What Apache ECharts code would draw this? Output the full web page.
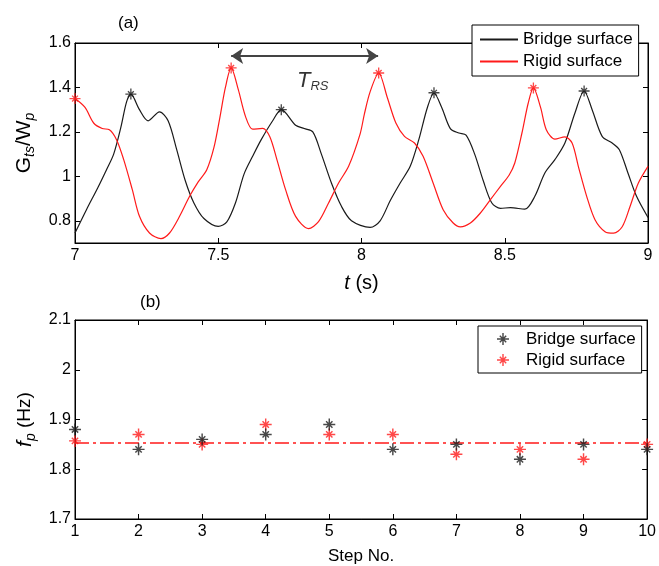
<!DOCTYPE html>
<html>
<head>
<meta charset="utf-8">
<script src="https://cdn.jsdelivr.net/npm/echarts@6/dist/echarts.min.js"></script>
<style>
html,body{margin:0;padding:0;background:#fff;}
#myChart{width:659px;height:566px;}
</style>
</head>
<body>
<div id="myChart"></div>
<script>
// (a) time histories
var bridgeT = [7.00,7.04,7.08,7.11,7.135,7.16,7.18,7.195,7.225,7.255,7.295,7.325,7.355,7.385,7.415,7.45,7.50,7.53,7.56,7.59,7.62,7.65,7.69,7.72,7.77,7.80,7.83,7.86,7.895,7.93,7.965,8.03,8.065,8.10,8.135,8.17,8.20,8.23,8.253,8.28,8.31,8.34,8.365,8.395,8.425,8.455,8.485,8.52,8.57,8.605,8.64,8.675,8.71,8.745,8.777,8.805,8.84,8.875,8.90,8.93,8.96,9.00];
var bridgeG = [0.745,0.85,0.95,1.03,1.10,1.22,1.335,1.37,1.30,1.25,1.29,1.25,1.12,0.98,0.88,0.81,0.775,0.795,0.88,1.01,1.09,1.165,1.25,1.30,1.23,1.215,1.20,1.10,0.97,0.865,0.80,0.77,0.80,0.89,0.97,1.045,1.165,1.31,1.375,1.31,1.215,1.195,1.185,1.10,0.98,0.88,0.856,0.859,0.852,0.91,1.015,1.075,1.15,1.285,1.384,1.30,1.18,1.15,1.12,1.015,0.91,0.815];
var rigidT = [7.00,7.035,7.065,7.095,7.12,7.145,7.17,7.20,7.225,7.26,7.30,7.33,7.365,7.40,7.43,7.46,7.485,7.505,7.525,7.545,7.57,7.595,7.62,7.655,7.68,7.705,7.735,7.77,7.815,7.85,7.885,7.92,7.955,7.995,8.01,8.03,8.06,8.09,8.12,8.15,8.185,8.215,8.25,8.285,8.32,8.345,8.38,8.415,8.45,8.485,8.515,8.535,8.56,8.582,8.60,8.625,8.645,8.675,8.71,8.735,8.757,8.786,8.815,8.85,8.88,8.91,8.937,8.966,9.00];
var rigidG = [1.35,1.31,1.24,1.215,1.21,1.165,1.075,0.94,0.82,0.745,0.72,0.745,0.82,0.91,0.975,1.03,1.13,1.26,1.40,1.488,1.39,1.27,1.212,1.216,1.178,1.074,0.94,0.82,0.765,0.796,0.88,0.97,1.045,1.19,1.28,1.38,1.465,1.355,1.24,1.18,1.15,1.09,0.97,0.85,0.79,0.773,0.79,0.835,0.895,0.955,1.005,1.06,1.195,1.33,1.398,1.31,1.21,1.167,1.178,1.15,1.044,0.91,0.805,0.751,0.744,0.773,0.863,0.969,1.045];
var bridgePeakT = [7.195,7.72,8.253,8.777];
var bridgePeakG = [1.37,1.30,1.376,1.384];
var rigidPeakT = [7.00,7.545,8.06,8.60];
var rigidPeakG = [1.35,1.488,1.465,1.398];
var gTicks = [0.8,1,1.2,1.4,1.6];
var arrowT = [7.545,8.058];
var arrowG = 1.541;
var trsLabelPos = [7.83,1.43];

// (b) peak frequency per step
var steps = [1,2,3,4,5,6,7,8,9,10];
var bridgeFp = [1.88,1.84,1.86,1.87,1.89,1.84,1.85,1.82,1.85,1.84];
var rigidFp = [1.857,1.87,1.85,1.89,1.87,1.87,1.83,1.84,1.82,1.85];
var rigidMean = 1.853;

var font = 'Liberation Sans';
var black = '#1a1a1a', red = '#ff1a1a';
// asterisk marker (+ and x)
var star = 'path://M-0.12,-1L0.12,-1L0.12,1L-0.12,1Z' +
  'M-1,-0.12L1,-0.12L1,0.12L-1,0.12Z' +
  'M-0.445,-0.615L0.615,0.445L0.445,0.615L-0.615,-0.445Z' +
  'M-0.615,0.445L0.445,-0.615L0.615,-0.445L-0.445,0.615Z';

function zip(a, b){
  var out = [];
  for (var i = 0; i < a.length; i++) out.push([a[i], b[i]]);
  return out;
}
function fill(v, n){
  var out = [];
  for (var i = 0; i < n.length; i++) out.push([n[i], v]);
  return out;
}

var myChart = echarts.init(document.getElementById('myChart'));

var tickStyle = {show:true, inside:true, length:5, lineStyle:{color:'#000', width:1}};
var lineStyleAxis = {show:true, onZero:false, lineStyle:{color:'#000', width:1}};

var option = {
  animation:false,
  backgroundColor:'#fff',
  title:[
    {text:'(a)', left:118, top:15, padding:0, textStyle:{fontSize:17, fontWeight:'normal', color:'#000', fontFamily:font}},
    {text:'(b)', left:140, top:294, padding:0, textStyle:{fontSize:17, fontWeight:'normal', color:'#000', fontFamily:font}}
  ],
  legend:[
    {
      left:472, top:25, orient:'vertical',
      data:['Bridge surface','Rigid surface'],
      // line only, hide the marker legend adds for line series
      itemStyle:{opacity:0},
      backgroundColor:'#fff', borderColor:'#000', borderWidth:1,
      padding:[6,6,6,7], itemGap:5, itemWidth:38, itemHeight:18,
      textStyle:{fontSize:17, color:'#000', fontFamily:font}
    },
    {
      left:478, top:326, orient:'vertical',
      data:['Bridge surface (b)','Rigid surface (b)'],
      formatter:function(name){ return name.replace(' (b)',''); },
      backgroundColor:'#fff', borderColor:'#000', borderWidth:1,
      padding:[4,6,4,19], itemGap:3, itemWidth:30, itemHeight:12,
      textStyle:{fontSize:17, color:'#000', fontFamily:font, lineHeight:18, padding:[0,0,0,3]}
    }
  ],
  grid:[
    {left:75, top:43, width:573, height:200, show:true, borderColor:'#000', borderWidth:1},
    {left:75, top:320, width:573, height:200, show:true, borderColor:'#000', borderWidth:1}
  ],
  xAxis:[
    {
      type:'value', gridIndex:0, min:7, max:9, interval:0.5,
      axisLine:lineStyleAxis, axisTick:tickStyle, splitLine:{show:false},
      axisLabel:{color:'#000', fontSize:16, fontFamily:font, margin:5},
      name:'{i|t} (s)', nameLocation:'middle', nameGap:30,
      nameTextStyle:{color:'#000', fontSize:20, fontFamily:font, rich:{i:{fontSize:20, fontStyle:'italic', fontFamily:font, color:'#000'}}}
    },
    {
      type:'value', gridIndex:0, position:'top', min:7, max:9, interval:0.5,
      axisLine:lineStyleAxis, axisTick:tickStyle, splitLine:{show:false}, axisLabel:{show:false}
    },
    {
      type:'value', gridIndex:1, min:1, max:10, interval:1,
      axisLine:lineStyleAxis, axisTick:tickStyle, splitLine:{show:false},
      axisLabel:{color:'#000', fontSize:16, fontFamily:font, margin:5},
      name:'Step No.', nameLocation:'middle', nameGap:29,
      nameTextStyle:{color:'#000', fontSize:17, fontFamily:font}
    },
    {
      type:'value', gridIndex:1, position:'top', min:1, max:10, interval:1,
      axisLine:lineStyleAxis, axisTick:tickStyle, splitLine:{show:false}, axisLabel:{show:false}
    }
  ],
  yAxis:[
    {
      type:'value', gridIndex:0, min:0.7, max:1.6,
      axisLine:lineStyleAxis, splitLine:{show:false},
      axisTick:{show:true, inside:true, length:5, customValues:gTicks, lineStyle:{color:'#000'}},
      axisLabel:{color:'#000', fontSize:16, fontFamily:font, margin:4, customValues:gTicks},
      name:'{i|G}{s|ts}{i|/W}{s|p}', nameLocation:'middle', nameGap:38,
      nameTextStyle:{color:'#000', fontFamily:font, rich:{
        i:{fontSize:21, fontFamily:font, color:'#000', lineHeight:26},
        s:{fontSize:14, fontStyle:'italic', fontFamily:font, color:'#000', verticalAlign:'bottom', lineHeight:14}
      }}
    },
    {
      type:'value', gridIndex:0, position:'right', min:0.7, max:1.6,
      axisLine:lineStyleAxis, splitLine:{show:false},
      axisTick:{show:true, inside:true, length:5, customValues:gTicks, lineStyle:{color:'#000'}},
      axisLabel:{show:false}
    },
    {
      type:'value', gridIndex:1, min:1.7, max:2.1, interval:0.1,
      axisLine:lineStyleAxis, axisTick:tickStyle, splitLine:{show:false},
      axisLabel:{color:'#000', fontSize:16, fontFamily:font, margin:4},
      name:'{i|f}{s|p} (Hz)', nameLocation:'middle', nameGap:34,
      nameTextStyle:{color:'#000', fontSize:19, fontFamily:font, lineHeight:26, rich:{
        i:{fontSize:21, fontStyle:'italic', fontFamily:font, color:'#000', lineHeight:26},
        s:{fontSize:14, fontStyle:'italic', fontFamily:font, color:'#000', verticalAlign:'bottom', lineHeight:14}
      }}
    },
    {
      type:'value', gridIndex:1, position:'right', min:1.7, max:2.1, interval:0.1,
      axisLine:lineStyleAxis, axisTick:tickStyle, splitLine:{show:false}, axisLabel:{show:false}
    }
  ],
  series:[
    {
      name:'Bridge surface', type:'line', xAxisIndex:0, yAxisIndex:0,
      data:zip(bridgeT, bridgeG), symbol:'none', smooth:0.3,
      lineStyle:{color:black, width:1.2}, itemStyle:{color:black}
    },
    {
      name:'Rigid surface', type:'line', xAxisIndex:0, yAxisIndex:0,
      data:zip(rigidT, rigidG), symbol:'none', smooth:0.3,
      lineStyle:{color:red, width:1.2}, itemStyle:{color:red}
    },
    {
      name:'bridgePeaks', type:'scatter', xAxisIndex:0, yAxisIndex:0,
      data:zip(bridgePeakT, bridgePeakG), symbol:star, symbolSize:11,
      itemStyle:{color:black}, z:5
    },
    {
      name:'rigidPeaks', type:'scatter', xAxisIndex:0, yAxisIndex:0,
      data:zip(rigidPeakT, rigidPeakG), symbol:star, symbolSize:11,
      itemStyle:{color:red}, z:5
    },
    {
      name:'T_RS', type:'scatter', xAxisIndex:0, yAxisIndex:0,
      data:[trsLabelPos], symbolSize:0, silent:true,
      itemStyle:{color:'transparent'},
      label:{show:true, position:'inside', formatter:'{t|T}{s|RS}', rich:{
        t:{fontSize:22, fontStyle:'italic', fontFamily:font, color:'#000', lineHeight:24},
        s:{fontSize:13, fontStyle:'italic', fontFamily:font, color:'#000', verticalAlign:'bottom', lineHeight:12}
      }},
      markLine:{
        silent:true, symbol:['arrow','arrow'], symbolSize:12, label:{show:false},
        lineStyle:{color:'#444', width:2, type:'solid'},
        data:[[{coord:[arrowT[0], arrowG]}, {coord:[arrowT[1], arrowG]}]]
      }
    },
    {
      name:'Bridge surface (b)', type:'scatter', xAxisIndex:2, yAxisIndex:2,
      data:zip(steps, bridgeFp), symbol:star, symbolSize:12,
      itemStyle:{color:black}, z:5
    },
    {
      name:'Rigid surface (b)', type:'scatter', xAxisIndex:2, yAxisIndex:2,
      data:zip(steps, rigidFp), symbol:star, symbolSize:12,
      itemStyle:{color:red}, z:4
    },
    {
      name:'rigidMean', type:'line', xAxisIndex:2, yAxisIndex:2,
      data:fill(rigidMean, [steps[0], steps[steps.length-1]]), symbol:'none',
      lineStyle:{color:red, width:1.5, type:[14,4,3,4]}, z:3
    }
  ]
};
myChart.setOption(option);
</script>
</body>
</html>
